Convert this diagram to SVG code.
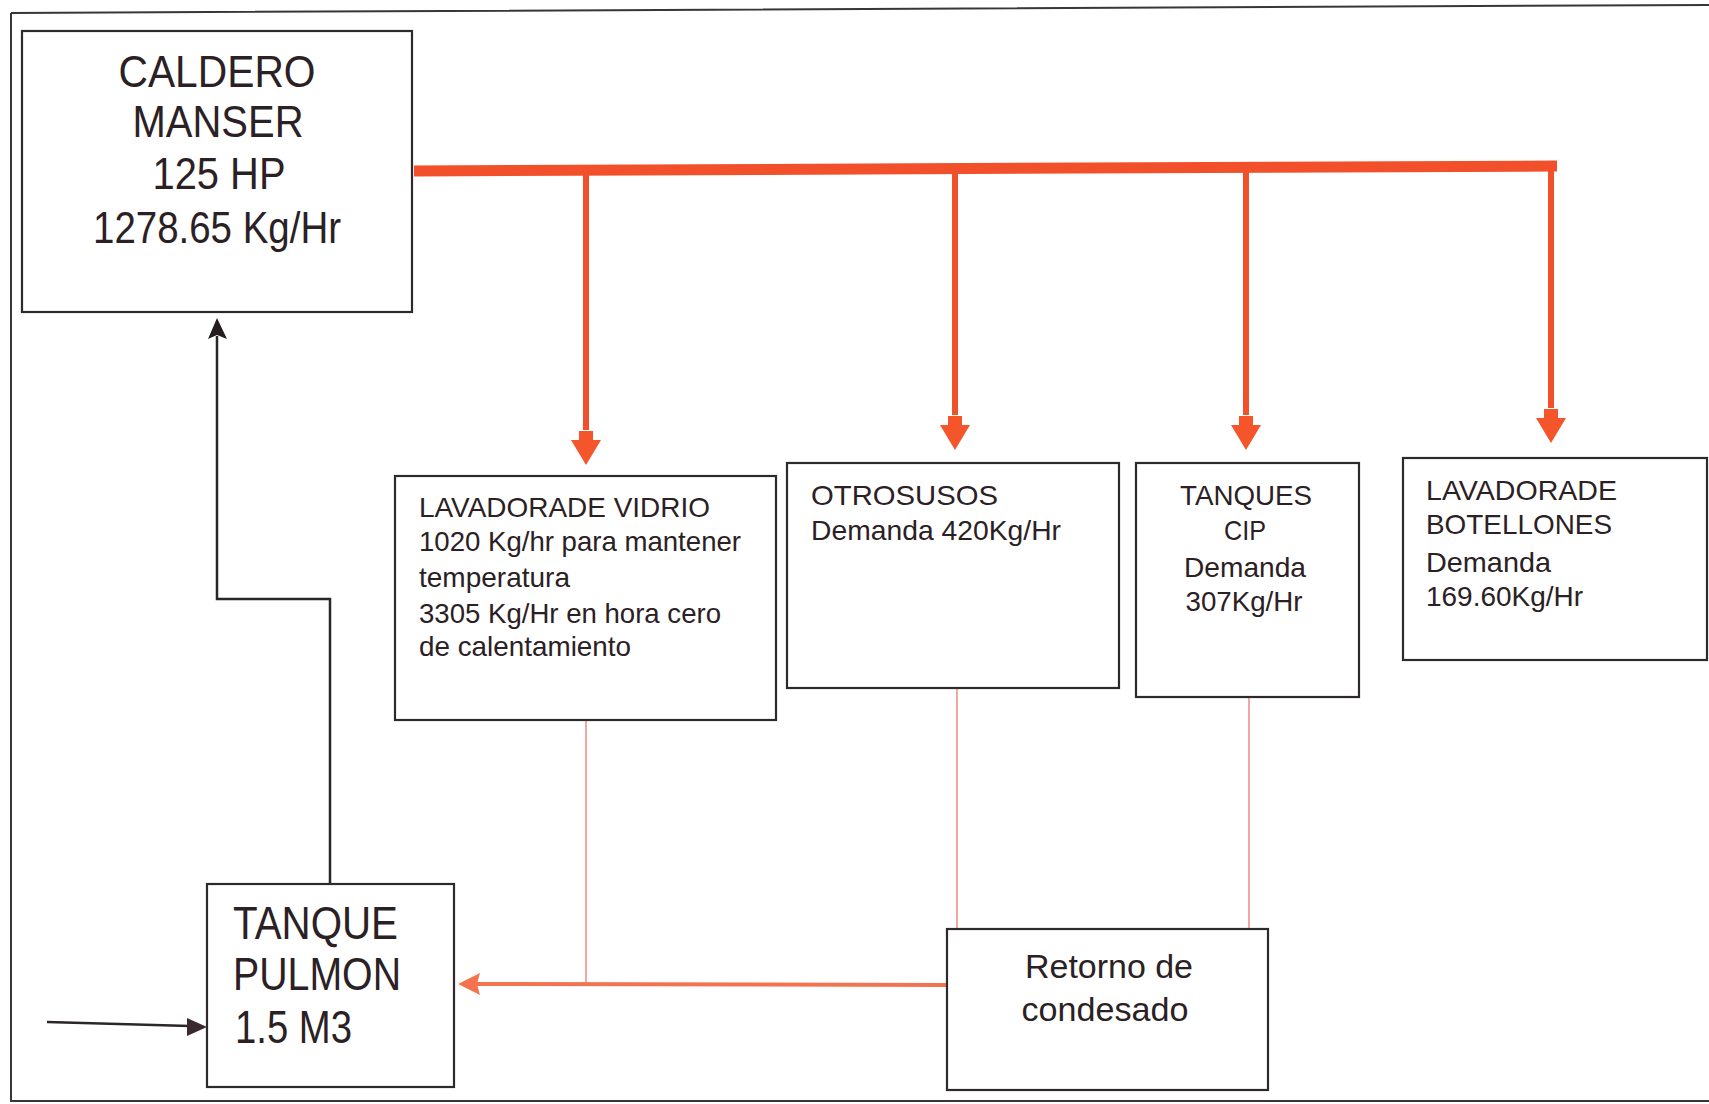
<svg xmlns="http://www.w3.org/2000/svg" xmlns:xlink="http://www.w3.org/1999/xlink" width="1709" height="1104" viewBox="0 0 1709 1104">
<style>
.box{fill:#fff;stroke:#2e2a2b;stroke-width:2.2}
.frame{fill:none;stroke:#3a3637;stroke-width:2}
.t{font-family:"Liberation Sans",Arial,sans-serif;fill:#2b2124}
.big{font-size:44px}
.med{font-size:46px}
.sm{font-size:28px}
.rt{font-size:33px}
.steam{stroke:#f2502a;fill:none}
.cond{stroke:#f4a6a2;stroke-width:2;fill:none}
.ret{stroke:#f3734f;stroke-width:4;fill:none}
.blk{stroke:#2b2627;stroke-width:2.5;fill:none}
.ahead{fill:#f5552b}
</style>
<defs>
<polygon id="ah" class="ahead" points="-7,-34 7,-34 7,-25 15,-25 0,0 -15,-25 -7,-25"/>
</defs>
<rect width="1709" height="1104" fill="#fff"/>
<g id="frame">
<path class="frame" d="M11,13 L1709,5 M11,13 L11,1102 M11,1101 L1709,1101"/>
</g>
<g id="connectors">
<path class="steam" stroke-width="11" d="M414,171 L1557,166"/>
<path class="steam" stroke-width="6" d="M586,171 L586,430 M955,169 L955,415 M1246,168 L1246,415 M1551,166 L1551,408"/>
<use xlink:href="#ah" href="#ah" x="586" y="465"/>
<use xlink:href="#ah" href="#ah" x="955" y="450"/>
<use xlink:href="#ah" href="#ah" x="1246" y="450"/>
<use xlink:href="#ah" href="#ah" x="1551" y="443"/>
<path class="cond" d="M586,720 L586,985 M957,688 L957,929 M1249,697 L1249,929"/>
<path class="ret" d="M947,985 L470,984"/>
<polygon fill="#f3734f" points="458,984 480,973 477,984 480,995"/>
<path class="blk" d="M330,883 L330,599 L217,599 L217,336"/>
<polygon fill="#231d1f" points="217,318 227,339 217,335 208,339"/>
<path class="blk" stroke-width="2" d="M47,1022 L190,1026"/>
<polygon fill="#3a2a2f" points="207,1027 187,1018 187,1036"/>
</g>
<g id="caldero">
<rect class="box" x="22" y="31" width="390" height="281"/>
<text class="t big" x="217" y="87" text-anchor="middle" textLength="197" lengthAdjust="spacingAndGlyphs">CALDERO</text>
<text class="t big" x="218" y="137" text-anchor="middle" textLength="171" lengthAdjust="spacingAndGlyphs">MANSER</text>
<text class="t big" x="219" y="189" text-anchor="middle" textLength="133" lengthAdjust="spacingAndGlyphs">125 HP</text>
<text class="t big" x="217" y="243" text-anchor="middle" textLength="248" lengthAdjust="spacingAndGlyphs">1278.65 Kg/Hr</text>
</g>
<g id="lavadora-vidrio">
<rect class="box" x="395" y="476" width="381" height="244"/>
<text class="t sm" x="419" y="517" textLength="291" lengthAdjust="spacingAndGlyphs">LAVADORADE VIDRIO</text>
<text class="t sm" x="419" y="551" textLength="322" lengthAdjust="spacingAndGlyphs">1020 Kg/hr para mantener</text>
<text class="t sm" x="419" y="587" textLength="151" lengthAdjust="spacingAndGlyphs">temperatura</text>
<text class="t sm" x="419" y="623" textLength="302" lengthAdjust="spacingAndGlyphs">3305 Kg/Hr en hora cero</text>
<text class="t sm" x="419" y="656" textLength="212" lengthAdjust="spacingAndGlyphs">de calentamiento</text>
</g>
<g id="otros-usos">
<rect class="box" x="787" y="463" width="332" height="225"/>
<text class="t sm" x="811" y="505" textLength="187" lengthAdjust="spacingAndGlyphs">OTROSUSOS</text>
<text class="t sm" x="811" y="540" textLength="250" lengthAdjust="spacingAndGlyphs">Demanda 420Kg/Hr</text>
</g>
<g id="tanques-cip">
<rect class="box" x="1136" y="463" width="223" height="234"/>
<text class="t sm" x="1246" y="505" text-anchor="middle" textLength="132" lengthAdjust="spacingAndGlyphs">TANQUES</text>
<text class="t sm" x="1245" y="540" text-anchor="middle" textLength="42" lengthAdjust="spacingAndGlyphs">CIP</text>
<text class="t sm" x="1245" y="577" text-anchor="middle" textLength="122" lengthAdjust="spacingAndGlyphs">Demanda</text>
<text class="t sm" x="1244" y="611" text-anchor="middle" textLength="117" lengthAdjust="spacingAndGlyphs">307Kg/Hr</text>
</g>
<g id="lavadora-botellones">
<rect class="box" x="1403" y="458" width="304" height="202"/>
<text class="t sm" x="1426" y="500" textLength="191" lengthAdjust="spacingAndGlyphs">LAVADORADE</text>
<text class="t sm" x="1426" y="534" textLength="186" lengthAdjust="spacingAndGlyphs">BOTELLONES</text>
<text class="t sm" x="1426" y="572" textLength="125" lengthAdjust="spacingAndGlyphs">Demanda</text>
<text class="t sm" x="1426" y="606" textLength="157" lengthAdjust="spacingAndGlyphs">169.60Kg/Hr</text>
</g>
<g id="tanque-pulmon">
<rect class="box" x="207" y="884" width="247" height="203"/>
<text class="t med" x="233" y="939" textLength="165" lengthAdjust="spacingAndGlyphs">TANQUE</text>
<text class="t med" x="233" y="990" textLength="168" lengthAdjust="spacingAndGlyphs">PULMON</text>
<text class="t med" x="235" y="1043" textLength="117" lengthAdjust="spacingAndGlyphs">1.5 M3</text>
</g>
<g id="retorno">
<rect class="box" x="947" y="929" width="321" height="161"/>
<text class="t rt" x="1109" y="978" text-anchor="middle" textLength="168" lengthAdjust="spacingAndGlyphs">Retorno de</text>
<text class="t rt" x="1105" y="1021" text-anchor="middle" textLength="167" lengthAdjust="spacingAndGlyphs">condesado</text>
</g>
</svg>
